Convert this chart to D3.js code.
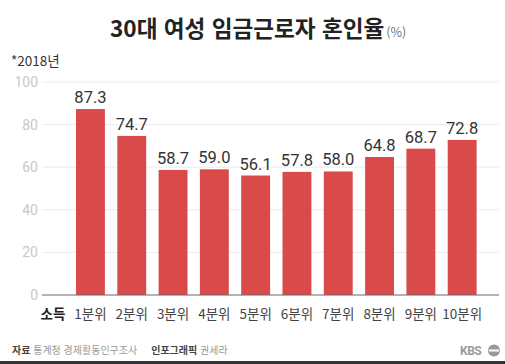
<!DOCTYPE html>
<html lang="ko">
<head>
<meta charset="utf-8">
<title>30대 여성 임금근로자 혼인율</title>
<script src="https://d3js.org/d3.v7.min.js"></script>
<style>
  body { margin: 0; background: #fff; }
  svg { display: block; font-family: "Noto Sans CJK KR", "Noto Sans", sans-serif; }
  .title { font-size: 22.6px; font-weight: bold; fill: #222; }
  .unit { font-size: 12.5px; fill: #777; }
  .note { font-size: 13.5px; fill: #333; }
  .ytick text { font-size: 14px; fill: #c8c8c8; font-family: Roboto, sans-serif; }
  .grid line { stroke: #ececec; }
  .value { font-size: 16.5px; fill: #333; font-family: Roboto, sans-serif; text-anchor: middle; }
  .xlab { font-size: 13.5px; fill: #444; text-anchor: middle; }
  .foot { font-size: 10px; fill: #999; }
</style>
</head>
<body>
<svg width="505" height="364"></svg>
<script>
// data
const groups = ["1분위", "2분위", "3분위", "4분위", "5분위", "6분위", "7분위", "8분위", "9분위", "10분위"];
const rates = [87.3, 74.7, 58.7, 59.0, 56.1, 57.8, 58.0, 64.8, 68.7, 72.8];
const yTicks = [0, 20, 40, 60, 80, 100];

const svg = d3.select("svg");
const W = 505, H = 364;
const xLeft = 42, xRight = 499, yTop = 82, yBottom = 295;

const x = d3.scaleBand()
  .domain(groups)
  .range([63.6, 489])
  .paddingInner(0.3)
  .paddingOuter(0.3);

const y = d3.scaleLinear().domain([0, 100]).range([yBottom, yTop]);

// title
const t = svg.append("text").attr("x", 110).attr("y", 37);
t.append("tspan").attr("class", "title").text("30대 여성 임금근로자 혼인율");
t.append("tspan").attr("class", "unit").attr("dx", 2).text("(%)");

svg.append("text").attr("class", "note").attr("x", 11).attr("y", 66).text("*2018년");

// grid
svg.append("g").attr("class", "grid")
  .selectAll("line").data(yTicks.filter(d => d > 0)).enter()
  .append("line")
  .attr("x1", xLeft).attr("x2", xRight)
  .attr("y1", d => y(d)).attr("y2", d => y(d));

// y labels
const yAxis = d3.axisLeft(y).tickValues(yTicks).tickSize(0).tickPadding(4);
svg.append("g").attr("class", "ytick")
  .attr("transform", "translate(" + xLeft + ",0)")
  .call(yAxis)
  .call(g => g.select(".domain").remove());

// bars
svg.append("g").selectAll("rect").data(rates).enter()
  .append("rect")
  .attr("x", (d, i) => x(groups[i]))
  .attr("y", d => y(d))
  .attr("width", x.bandwidth())
  .attr("height", d => y(0) - y(d))
  .attr("fill", "#d94a4b");

// values
svg.append("g").selectAll("text").data(rates).enter()
  .append("text")
  .attr("class", "value")
  .attr("x", (d, i) => x(groups[i]) + x.bandwidth() / 2)
  .attr("y", d => y(d) - 6)
  .text(d => d.toFixed(1));

// baseline
svg.append("line")
  .attr("x1", xLeft).attr("x2", xRight)
  .attr("y1", yBottom).attr("y2", yBottom)
  .attr("stroke", "#666").attr("stroke-width", 1);

// x labels
svg.append("text").attr("x", 53).attr("y", 319)
  .attr("text-anchor", "middle")
  .attr("font-size", 13.5).attr("font-weight", "bold").attr("fill", "#222")
  .text("소득");
svg.append("g").selectAll("text").data(groups).enter()
  .append("text")
  .attr("class", "xlab")
  .attr("x", d => x(d) + x.bandwidth() / 2)
  .attr("y", 319)
  .text(d => d);

// footer
const f = svg.append("text").attr("class", "foot").attr("x", 12).attr("y", 354);
f.append("tspan").attr("fill", "#444").attr("font-weight", "bold").text("자료 ");
f.append("tspan").text("통계청 경제활동인구조사");
f.append("tspan").attr("fill", "#444").attr("font-weight", "bold").attr("dx", 14).text("인포그래픽 ");
f.append("tspan").text("권세라");

svg.append("text").attr("x", 460).attr("y", 355)
  .attr("font-size", 12).attr("font-weight", "bold").attr("fill", "#999")
  .attr("font-family", "Roboto, sans-serif").attr("letter-spacing", -0.5)
  .text("KBS");
svg.append("circle").attr("cx", 494).attr("cy", 350.5).attr("r", 6).attr("fill", "#999");
svg.append("rect").attr("x", 489).attr("y", 349.5).attr("width", 10).attr("height", 2).attr("fill", "#fff");

svg.append("rect").attr("x", 0).attr("y", 361).attr("width", W).attr("height", 3).attr("fill", "#333");
</script>
</body>
</html>
